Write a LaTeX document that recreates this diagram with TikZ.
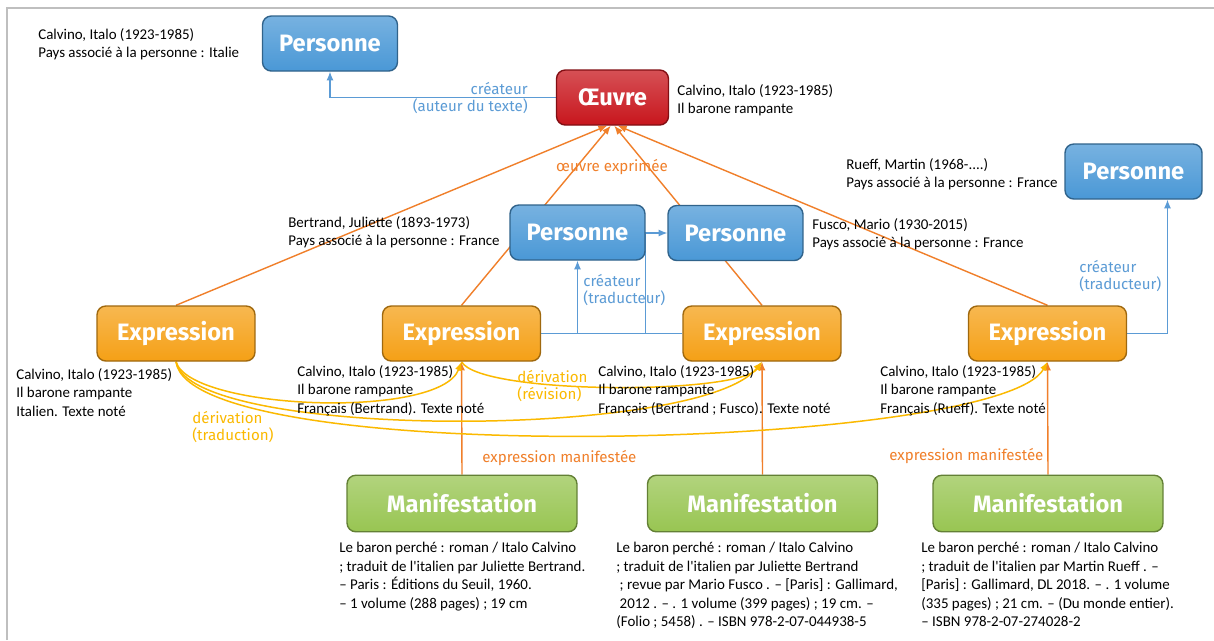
\documentclass[tikz,border=0pt]{standalone}
\usepackage{fontspec}
\setmainfont{Carlito}[Ligatures=TeXOff]
\newfontfamily\boxfont{Fira Sans}
\usetikzlibrary{arrows.meta}
\pgfdeclarelayer{bg}
\pgfsetlayers{bg,main}
\definecolor{persblue}{HTML}{4A98D6}
\definecolor{oeuvred}{HTML}{C8161D}
\definecolor{exporange}{HTML}{F5A016}
\definecolor{manifgreen}{HTML}{98C552}
\definecolor{bluec}{HTML}{5B9BD5}
\definecolor{orangec}{HTML}{F07F2A}
\definecolor{goldc}{HTML}{FBB900}
\definecolor{framegray}{HTML}{BFBFBF}
\tikzset{
  entity/.style={rounded corners=5pt, draw=#1!65!black, line width=0.8pt,
    top color=#1!75!white, bottom color=#1, text=white,
    font=\boxfont\bfseries\fontsize{13.5}{16}\selectfont,
    minimum height=1.1cm, inner sep=0pt},
  info/.style={font=\fontsize{8.5}{10.5}\selectfont, align=left,
    anchor=north west, inner sep=0pt},
  lbl/.style={font=\boxfont\fontsize{8.6}{9.7}\selectfont, inner sep=0pt},
  blueline/.style={draw=bluec, line width=0.6pt},
  orangeline/.style={draw=orangec, line width=0.8pt},
  goldline/.style={draw=goldc, line width=0.85pt},
  tip/.style={-{Latex[length=5pt,width=4pt]}}
}
\begin{document}
\begin{tikzpicture}[x=0.02cm,y=-0.02cm]
\path[use as bounding box] (0,0) rectangle (1214,640);
% nodes
\node[entity=persblue, minimum width=2.7cm] (p1) at (330,43.5) {Personne};
\node[entity=oeuvred, minimum width=2.24cm] (oe) at (612.5,97.5) {Œuvre};
\node[entity=persblue, minimum width=2.7cm] (pb) at (577.5,232.5) {Personne};
\node[entity=persblue, minimum width=2.7cm] (pf) at (735.5,233) {Personne};
\node[entity=persblue, minimum width=2.74cm] (pr) at (1133.5,171.5) {Personne};
\node[entity=exporange, minimum width=3.16cm] (e1) at (176,333.5) {Expression};
\node[entity=exporange, minimum width=3.16cm] (e2) at (461.5,333.5) {Expression};
\node[entity=exporange, minimum width=3.16cm] (e3) at (762,333.5) {Expression};
\node[entity=exporange, minimum width=3.16cm] (e4) at (1047.5,333.5) {Expression};
\node[entity=manifgreen, minimum width=4.6cm, minimum height=1.13cm] (m1) at (462,503.5) {Manifestation};
\node[entity=manifgreen, minimum width=4.6cm, minimum height=1.13cm] (m2) at (762.5,503.5) {Manifestation};
\node[entity=manifgreen, minimum width=4.6cm, minimum height=1.13cm] (m3) at (1048,503.5) {Manifestation};
% descriptive texts
\node[info] (t0) at (38,28) {Calvino, Italo (1923-1985)\\Pays associé à la personne : Italie};
\node[info] (toe) at (677,84) {Calvino, Italo (1923-1985)\\Il barone rampante};
\node[info] (tr) at (846,158) {Rueff, Martin (1968-....)\\Pays associé à la personne : France};
\node[info] (tf) at (812,218) {Fusco, Mario (1930-2015)\\Pays associé à la personne : France};
\node[info] (tb) at (288,216) {Bertrand, Juliette (1893-1973)\\Pays associé à la personne : France};
\node[info] (te1) at (16,368) {Calvino, Italo (1923-1985)\\Il barone rampante\\Italien. Texte noté};
\node[info] (te2) at (297,365) {Calvino, Italo (1923-1985)\\Il barone rampante\\Français (Bertrand). Texte noté};
\node[info] (te3) at (598,365) {Calvino, Italo (1923-1985)\\Il barone rampante\\Français (Bertrand ; Fusco). Texte noté};
\node[info] (te4) at (880,365) {Calvino, Italo (1923-1985)\\Il barone rampante\\Français (Rueff). Texte noté};
\node[info] (tm1) at (339,542) {Le baron perché : roman / Italo Calvino\\; traduit de l'italien par Juliette Bertrand.\\– Paris : Éditions du Seuil, 1960.\\– 1 volume (288 pages) ; 19 cm};
\node[info] (tm2) at (616,542) {Le baron perché : roman / Italo Calvino\\; traduit de l'italien par Juliette Bertrand\\\ ; revue par Mario Fusco . – [Paris] : Gallimard,\\\ 2012 . – . 1 volume (399 pages) ; 19 cm. –\\(Folio ; 5458) . – ISBN 978-2-07-044938-5};
\node[info] (tm3) at (921,542) {Le baron perché : roman / Italo Calvino\\; traduit de l'italien par Martin Rueff . –\\{}[Paris] : Gallimard, DL 2018. – . 1 volume\\(335 pages) ; 21 cm. – (Du monde entier).\\– ISBN 978-2-07-274028-2};
% connector labels
\node[lbl, text=bluec, align=right, anchor=north east] (l1) at (528,82) {créateur\\(auteur du texte)};
\node[lbl, text=orangec] (l2) at (612,167) {œuvre exprimée};
\node[lbl, text=bluec, align=left, anchor=north west] (l3) at (583,274) {créateur\\(traducteur)};
\node[lbl, text=bluec, align=left, anchor=north west] (l4) at (1079,260) {créateur\\(traducteur)};
\node[lbl, text=goldc, align=left, anchor=north west] (l5) at (192,411) {dérivation\\(traduction)};
\node[lbl, text=goldc, align=left, anchor=north west] (l6) at (517,370) {dérivation\\(révision)};
\node[lbl, text=orangec, anchor=west] (l7) at (482,458) {expression manifestée};
\node[lbl, text=orangec, anchor=west] (l8) at (889,456) {expression manifestée};
% background: frame and connectors
\begin{pgfonlayer}{bg}
\fill[white] (0,0) rectangle (1214,640);
\draw[framegray, line width=1pt] (7,640) -- (7,8) -- (1214,8);
\draw[blueline, tip] (oe.west) -| (p1.south);
\draw[orangeline, tip] (e1.north) -- ([xshift=-3pt]oe.south);
\draw[orangeline, tip] (e2.north) -- ([xshift=-1pt]oe.south);
\draw[orangeline, tip] (e3.north) -- ([xshift=1pt]oe.south);
\draw[orangeline, tip] (e4.north) -- ([xshift=3pt]oe.south);
\draw[blueline] (e2.east) -- (e3.west);
\draw[blueline, tip] (e2.east -| pb.south) -- (pb.south);
\draw[blueline, tip] (e3.west -| pb.east) |- (pf.west);
\draw[blueline, tip] (e4.east) -| ([xshift=0.68cm]pr.south);
\draw[orangeline, tip] (m1.north) -- (e2.south);
\draw[orangeline, tip] (m2.north) -- (e3.south);
\draw[orangeline, tip] (m3.north) -- (e4.south);
\draw[goldline, tip] (e1.south) .. controls (190,410) and (440,420) .. (e2.south);
\draw[goldline, tip] (e1.south) .. controls (190,440) and (700,440) .. (e3.south);
\draw[goldline, tip] (e1.south) .. controls (190,470) and (1000,450) .. (e4.south);
\draw[goldline, tip] (e2.south) .. controls (480,395) and (740,395) .. (e3.south);
\end{pgfonlayer}
\end{tikzpicture}
\end{document}
